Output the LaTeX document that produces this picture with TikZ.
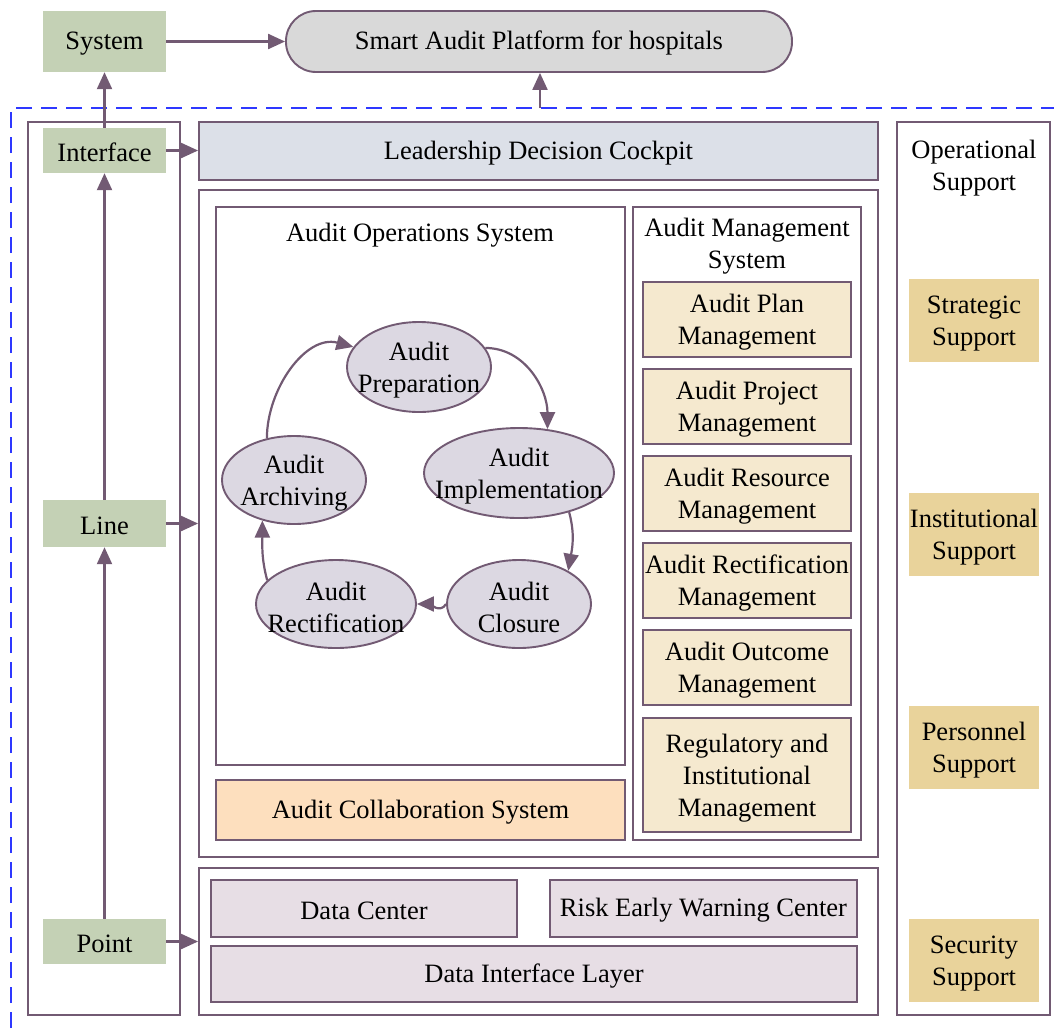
\documentclass[tikz,border=0pt]{standalone}
\usepackage{fontspec}
\setmainfont{Liberation Serif}
\usepackage{tikz}
\usetikzlibrary{arrows.meta,shapes.geometric}

\definecolor{edgecol}{RGB}{114,90,115}
\definecolor{greenfill}{RGB}{196,209,181}
\definecolor{platfill}{RGB}{217,217,217}
\definecolor{cockfill}{RGB}{220,224,232}
\definecolor{peachfill}{RGB}{253,223,190}
\definecolor{mgmtfill}{RGB}{245,233,207}
\definecolor{goldfill}{RGB}{233,211,155}
\definecolor{datafill}{RGB}{231,222,229}
\definecolor{stagefill}{RGB}{220,216,226}
\definecolor{dashblue}{RGB}{46,56,255}

\begin{document}
\begin{tikzpicture}[x=1pt,y=1pt,
  every node/.style={font=\fontsize{26.5}{32}\selectfont,align=center,inner sep=0pt,
    execute at begin node={\rule{0pt}{22pt}}},
  txt/.style={label={[yshift=-3pt]center:#1}},
  level node/.style={fill=greenfill,minimum width=123pt,minimum height=#1},
  frame/.style={draw=edgecol,line width=1.9pt},
  box node/.style={frame,minimum width=#1},
  mgmt node/.style={frame,fill=mgmtfill,minimum width=208pt,minimum height=#1},
  sup node/.style={fill=goldfill,minimum width=130pt,minimum height=83pt},
  stage node/.style={ellipse,frame,fill=stagefill,txt={#1}},
  arr/.style={draw=edgecol,line width=2.2pt,-{Triangle[length=17pt,width=15pt]}}]

  \useasboundingbox (0,0) rectangle (1054,-1028);

  % outer dashed frame
  \draw[dashblue,line width=2pt,dash pattern=on 16pt off 9pt] (11,-1028) -- (11,-108) -- (1054,-108);
  \coordinate (dtop) at (540,-108);

  % top row
  \node[level node=61pt] (sys) at (104.5,-41.5) {System};
  \node[frame,fill=platfill,rounded corners=30pt,minimum width=506pt,minimum height=61pt] (plat) at (539,-41.5) {Smart Audit Platform for hospitals};

  % left column
  \node[box node=152pt,minimum height=893pt] (leftcol) at (104,-568.5) {};
  \node[level node=45pt] (iface) at (104.5,-150.5) {Interface};
  \node[level node=47pt] (line) at (104.5,-523.5) {Line};
  \node[level node=45pt] (point) at (104.5,-941.5) {Point};

  % middle
  \node[box node=679pt,fill=cockfill,minimum height=58pt] (cockpit) at (538.5,-151) {Leadership Decision Cockpit};
  \node[box node=679pt,minimum height=667pt] (midbox) at (538.5,-523.5) {};
  \node[box node=409pt,minimum height=558pt] (ops) at (420.5,-486) {};
  \node (opstitle) at (420,-233) {Audit Operations System};
  \node[box node=409pt,fill=peachfill,minimum height=60pt] (collab) at (420.5,-810) {Audit Collaboration System};

  \node[box node=228pt,minimum height=633pt] (mgmt) at (747,-523.5) {};
  \node (mgmttitle) at (747,-246.5) {Audit Management\\System};
  \node[mgmt node=75pt,txt={Audit Plan\\Management}] (plan) at (747,-319.5) {};
  \node[mgmt node=75pt,txt={Audit Project\\Management}] (project) at (747,-406.5) {};
  \node[mgmt node=75pt,txt={Audit Resource\\Management}] (resource) at (747,-493.5) {};
  \node[mgmt node=75pt,txt={Audit Rectification\\Management}] (rectmgmt) at (747,-580.5) {};
  \node[mgmt node=75pt,txt={Audit Outcome\\Management}] (outcome) at (747,-667.5) {};
  \node[mgmt node=114pt,txt={Regulatory and\\Institutional\\Management}] (regul) at (747,-775) {};

  % data layer
  \node[box node=679pt,minimum height=147pt] (bottom) at (538.5,-941.5) {};
  \node[box node=306pt,fill=datafill,minimum height=57pt] (datacenter) at (364,-908.5) {Data Center};
  \node[box node=307pt,fill=datafill,minimum height=57pt] (risk) at (703.5,-908.5) {Risk Early Warning Center};
  \node[box node=646pt,fill=datafill,minimum height=56pt] (dil) at (534,-974) {Data Interface Layer};

  % right column
  \node[box node=153pt,minimum height=893pt] (rightcol) at (973.5,-568.5) {};
  \node (optitle) at (974,-168.5) {Operational\\Support};
  \node[sup node,txt={Strategic\\Support}] (strategic) at (974,-320.5) {};
  \node[sup node,txt={Institutional\\Support}] (institutional) at (974,-534.5) {};
  \node[sup node,txt={Personnel\\Support}] (personnel) at (974,-747.5) {};
  \node[sup node,txt={Security\\Support}] (security) at (974,-960.5) {};

  % audit cycle
  \node[stage node={Audit\\Preparation},minimum width=144pt,minimum height=90pt] (prep) at (419,-367) {};
  \node[stage node={Audit\\Implementation},minimum width=190pt,minimum height=90pt] (impl) at (519,-473) {};
  \node[stage node={Audit\\Closure},minimum width=144pt,minimum height=88pt] (clos) at (519,-604) {};
  \node[stage node={Audit\\Rectification},minimum width=160pt,minimum height=88pt] (rect) at (336,-604) {};
  \node[stage node={Audit\\Archiving},minimum width=144pt,minimum height=88pt] (arch) at (294,-480) {};

  \path[every edge/.style={arr}]
    (arch.123) edge[out=90,in=165] (prep.163)
    (prep.16) edge[out=0,in=90] (impl.57)
    (impl.-38) edge[out=-75,in=80] (clos.34)
    (clos.west) edge[out=240,in=0] (rect.east)
    (rect.161) edge[out=105,in=-90] (arch.232);

  % levels
  \path[every edge/.style={arr}]
    (point) edge (line)
    (line) edge (iface)
    (iface) edge (sys)
    (sys) edge (plat)
    (iface) edge (iface -| cockpit.west)
    (line) edge (line -| midbox.west)
    (point) edge (point -| bottom.west)
    (dtop) edge (dtop |- plat.south);
\end{tikzpicture}
\end{document}
